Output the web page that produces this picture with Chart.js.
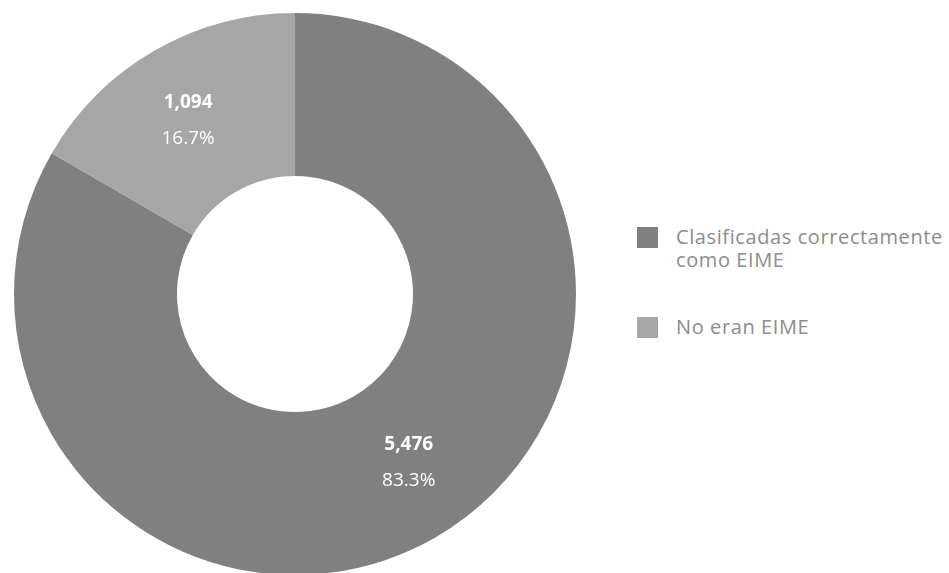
<!DOCTYPE html>
<html>
<head>
<meta charset="utf-8">
<script src="https://cdn.jsdelivr.net/npm/chart.js@4/dist/chart.umd.min.js"></script>
<style>
  html, body { margin: 0; padding: 0; background: #fff; overflow: hidden; }
  body { width: 949px; height: 573px; position: relative; font-family: "Open Sans", sans-serif; }
  #wrap { position: absolute; left: 0; top: -1px; width: 590px; height: 590px; }
  #legend { position: absolute; left: 637px; top: 225px; color: #8c8c8c; font-size: 20px; letter-spacing: 0.6px; line-height: 23px; }
  .item { display: flex; align-items: flex-start; margin-bottom: 44px; }
  .box { width: 21px; height: 21px; margin-right: 18px; margin-top: 2px; flex: none; }
</style>
</head>
<body>
<div id="wrap"><canvas id="donut"></canvas></div>
<div id="legend"></div>
<script>
const categories = ["Clasificadas correctamente como EIME", "No eran EIME"];
const legendLines = [["Clasificadas correctamente", "como EIME"], ["No eran EIME"]];
const counts = [5476, 1094];
const shares = [83.3, 16.7];
const colors = ["#808080", "#a6a6a6"];

const sliceLabels = {
  id: "sliceLabels",
  afterDatasetsDraw(chart) {
    const ctx = chart.ctx;
    const meta = chart.getDatasetMeta(0);
    ctx.save();
    ctx.fillStyle = "#fff";
    ctx.textAlign = "center";
    ctx.textBaseline = "middle";
    meta.data.forEach((arc, i) => {
      const mid = (arc.startAngle + arc.endAngle) / 2 + (i === 0 ? -0.07 : -0.03);
      const r = (arc.innerRadius + arc.outerRadius) / 2 + 4;
      const x = arc.x + Math.cos(mid) * r;
      const y = arc.y + Math.sin(mid) * r;
      ctx.font = "bold 19px 'Open Sans'";
      ctx.fillText(counts[i].toLocaleString("en-US"), x, y - 18);
      ctx.font = "19px 'Open Sans'";
      ctx.fillText(shares[i].toFixed(1) + "%", x, y + 18);
    });
    ctx.restore();
  }
};

new Chart(document.getElementById("donut"), {
  type: "doughnut",
  data: {
    labels: categories,
    datasets: [{
      data: counts,
      backgroundColor: colors,
      borderWidth: 0
    }]
  },
  options: {
    responsive: true,
    maintainAspectRatio: false,
    animation: false,
    cutout: "42%",
    layout: { padding: 14 },
    plugins: {
      legend: { display: false },
      tooltip: { enabled: false }
    }
  },
  plugins: [sliceLabels]
});

const legend = document.getElementById("legend");
categories.forEach((c, i) => {
  const item = document.createElement("div");
  item.className = "item";
  item.innerHTML = '<span class="box" style="background:' + colors[i] + '"></span><span>' + legendLines[i].join("<br>") + "</span>";
  legend.appendChild(item);
});
</script>
</body>
</html>
